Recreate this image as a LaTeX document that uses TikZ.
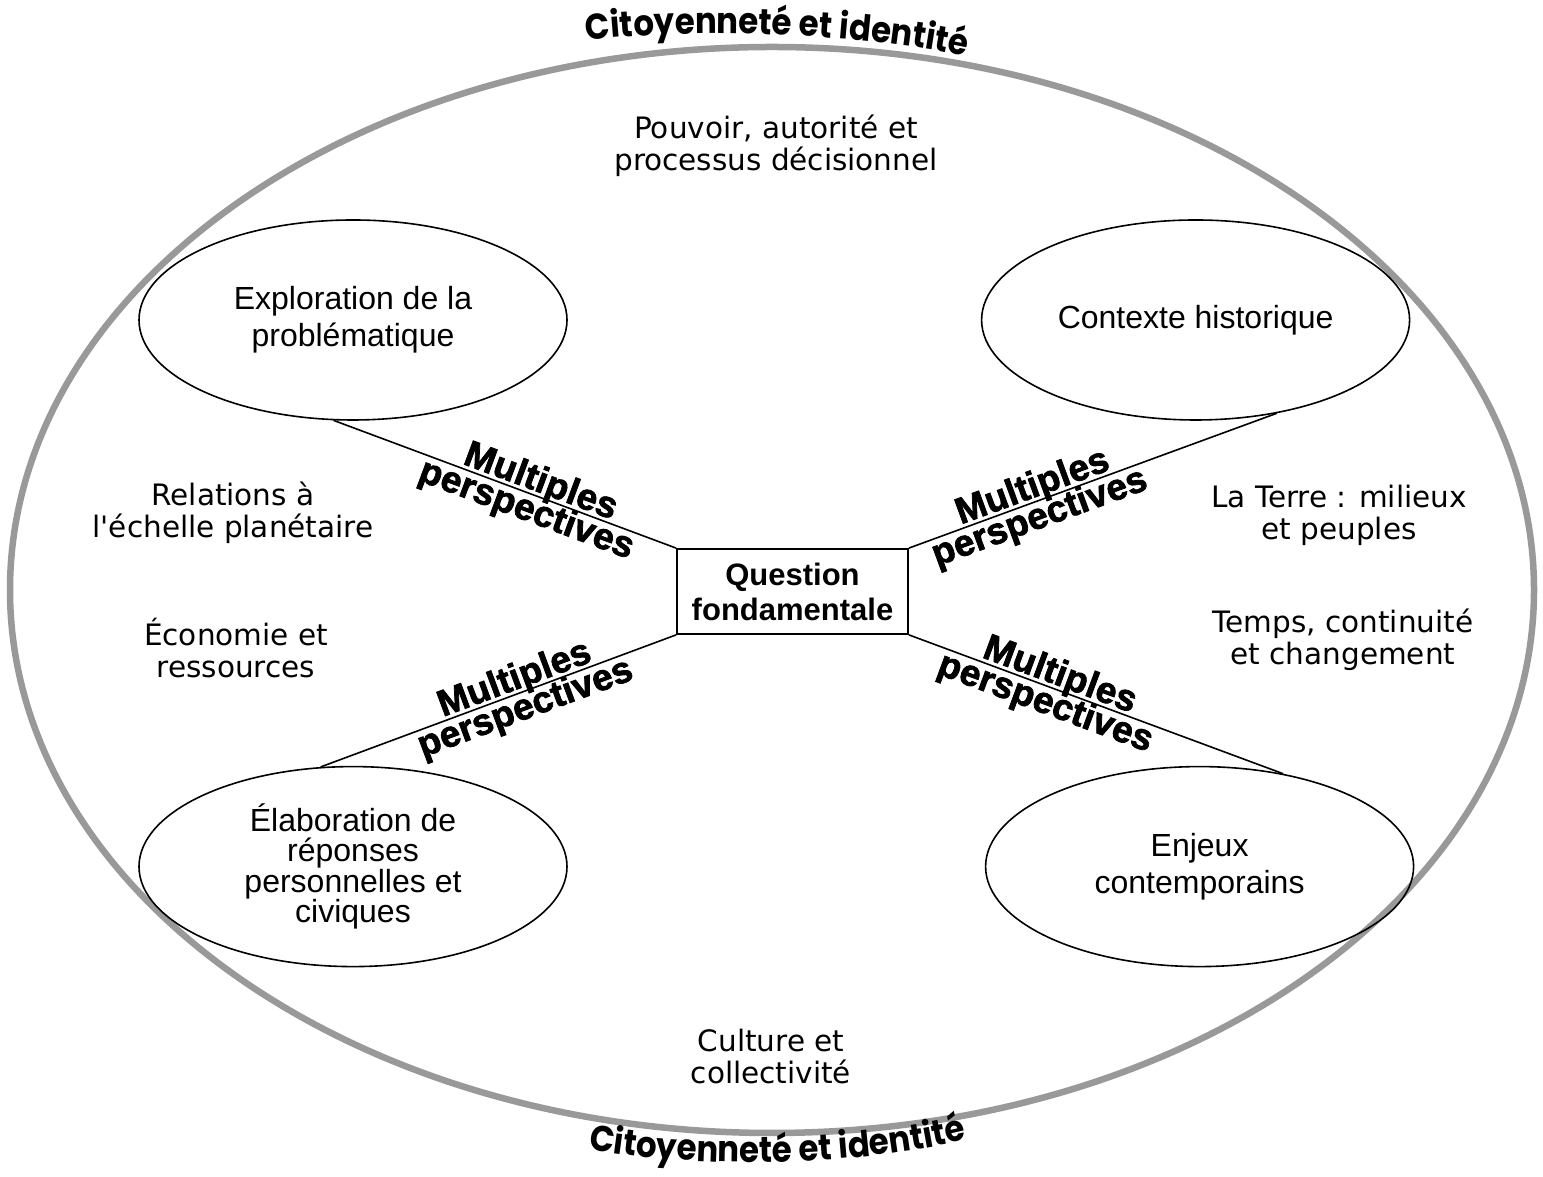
\documentclass[tikz,border=0pt]{standalone}
\usepackage{fontspec}
\setmainfont{Liberation Sans}
\newfontfamily\domainfont{DejaVu Sans}
\newfontfamily\titlefont[FakeStretch=0.9]{Poppins}
\newfontfamily\perspfont[FakeBold=2]{Liberation Sans}
\usetikzlibrary{shapes.geometric,positioning,decorations.text}

\begin{document}
\begin{tikzpicture}[x=1pt,y=1pt,
  topic/.style={ellipse,draw,line width=1.6pt,minimum width=428pt,minimum height=200pt,inner sep=0pt,align=center,font=\fontsize{32}{37}\selectfont},
  question/.style={rectangle,draw,line width=1.8pt,minimum width=231pt,minimum height=85pt,align=center,font=\bfseries\fontsize{31}{35}\selectfont},
  domaine/.style={align=center,font=\domainfont\fontsize{29.5}{32}\selectfont},
  multi/.style={sloped,font=\perspfont\bfseries\fontsize{37}{37}\selectfont},
  multiup/.style={multi,anchor=south,text depth=0pt,inner sep=3.5pt},
  multidown/.style={multi,anchor=north,text height=26pt,inner sep=0pt},
  link/.style={line width=1.6pt},
  citoyen/.style={decorate,decoration={text along path,text align=center,
    text={|\titlefont\bfseries\fontsize{36}{36}\selectfont|Citoyenneté et identité}}}]

  \useasboundingbox (0,0) rectangle (1543,1177);
  \draw[black!40,line width=6.5pt] (772,587) ellipse [x radius=762, y radius=543];

  % centre et themes
  \node[question] (Q) at (792.5,585.5) {Question\\fondamentale};
  \node[topic] (TL) at (353,857) {Exploration de la\\problématique};
  \node[topic] (TR) [right=413pt of TL] {Contexte historique};
  \node[topic,font=\fontsize{32}{30.5}\selectfont] (BL) [below=345pt of TL] {Élaboration de\\réponses\\personnelles et\\civiques};
  \node[topic] (BR) [right=417pt of BL] {Enjeux\\contemporains};

  \path (TL.259) edge[link] node[multiup,pos=0.59] {Multiples} node[multidown,pos=0.58] {perspectives} (Q.north west)
        (Q.north east) edge[link] node[multiup,pos=0.35] {Multiples} node[multidown,pos=0.34] {perspectives} (TR.311)
        (BL.108) edge[link] node[multiup,pos=0.56] {Multiples} node[multidown,pos=0.56] {perspectives} (Q.south west)
        (Q.south east) edge[link] node[multiup,pos=0.39] {Multiples} node[multidown,pos=0.38] {perspectives} (BR.48);

  % domaines
  \node[domaine] (pouvoir) at (776,1031) {Pouvoir, autorité et\\processus décisionnel};
  \node[domaine] (relations) at (233,664) {Relations à\\l'échelle planétaire};
  \node[domaine] (economie) at (236,529) {Économie et\\ressources};
  \node[domaine] (terre) at (1339,662) {La Terre : milieux\\et peuples};
  \node[domaine] (temps) at (1343,537) {Temps, continuité\\et changement};
  \node[domaine] (culture) at (771,120) {Culture et\\collectivité};

  \path[citoyen] (575,1135) .. controls (680,1150) and (860,1145) .. (978,1118);
  \path[citoyen] (575,30) .. controls (680,8) and (860,8) .. (980,41);
\end{tikzpicture}
\end{document}
